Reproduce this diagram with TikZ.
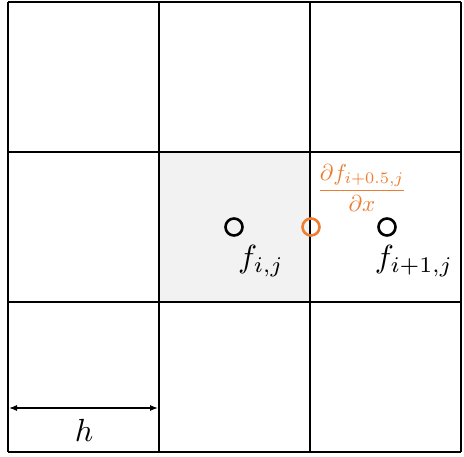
\documentclass[tikz,border=0pt]{standalone}
\usepackage{amsmath}
\usetikzlibrary{arrows.meta}
\definecolor{orng}{HTML}{ED7D31}
\definecolor{cellgray}{HTML}{F2F2F2}
\begin{document}
\begin{tikzpicture}[x=1pt,y=-1pt,
  gridline/.style={line width=2.8pt,black},
  pt/.style={circle,draw,line width=2.6pt,minimum size=17pt,inner sep=0pt},
  lbl/.style={inner sep=0pt,scale=3.2}]
\useasboundingbox (0,0) rectangle (464,456);
\fill[cellgray] (159,152) rectangle (310,302);
\foreach \x in {8,159,310,461} \draw[gridline] (\x,2) -- (\x,452);
\foreach \y in {2,152,302,452} \draw[gridline] (8,\y) -- (461,\y);
\node[pt,draw=black] (a) at (234,227) {};
\node[pt,draw=orng] (m) at (311,227) {};
\node[pt,draw=black] (b) at (387,227) {};
\node[lbl] (fa) at (261,261) {$f_{i,j}$};
\node[lbl] (fb) at (414,261) {$f_{i+1,j}$};
\node[inner sep=0pt,text=orng,scale=2.3] (d) at (362,188) {$\dfrac{\partial f_{i+0.5,j}}{\partial x}$};
\coordinate (h1) at (9,408);
\coordinate (h2) at (158,408);
\draw[line width=1.2pt,{Latex[length=8pt,width=6pt]}-{Latex[length=8pt,width=6pt]}] (h1) -- (h2);
\node[lbl] (h) at (84,430) {$h$};
\end{tikzpicture}
\end{document}
